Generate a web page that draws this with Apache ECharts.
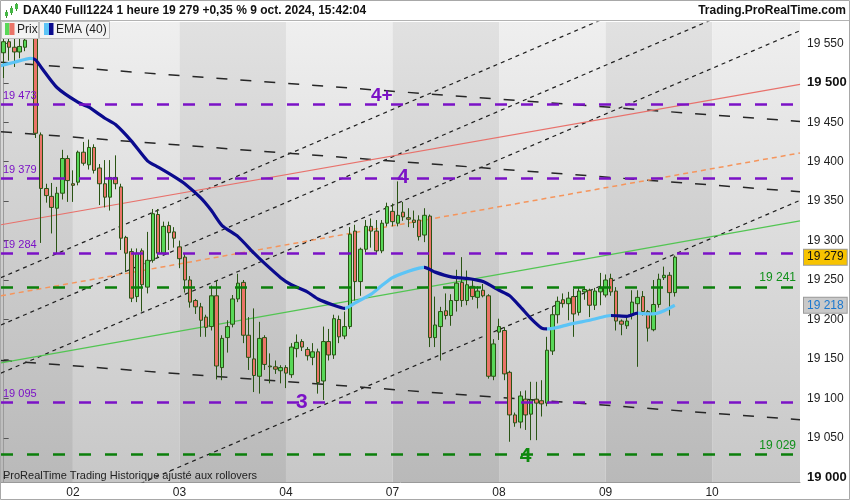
<!DOCTYPE html>
<html>
<head>
<meta charset="utf-8">
<script src="https://cdn.jsdelivr.net/npm/echarts@6/dist/echarts.min.js"></script>
<style>
html, body { margin: 0; padding: 0; background: #fff; }
#main { width: 850px; height: 500px; }
</style>
</head>
<body>
<div id="main"></div>
<script>
// hourly bars, [open, close, low, high]
const oct01 = [
  [19538, 19552, 19506, 19562], [19552, 19545, 19528, 19570], [19545, 19539, 19520, 19565],
  [19539, 19546, 19531, 19556], [19545, 19554, 19540, 19575], [19558, 19566, 19558, 19585],
  [19558, 19436, 19430, 19562], [19434, 19366, 19297, 19437], [19366, 19357, 19348, 19372],
  [19356, 19342, 19309, 19373], [19341, 19360, 19284, 19368], [19360, 19404, 19352, 19415],
  [19404, 19376, 19349, 19408]
]
const oct02 = [
  [19372, 19370, 19349, 19389], [19374, 19412, 19370, 19414], [19412, 19398, 19395, 19425],
  [19396, 19418, 19390, 19428], [19418, 19389, 19385, 19422], [19392, 19372, 19345, 19397],
  [19372, 19355, 19342, 19402], [19355, 19380, 19338, 19402], [19380, 19372, 19365, 19408],
  [19368, 19303, 19288, 19372], [19304, 19284, 19260, 19306], [19286, 19227, 19222, 19290],
  [19229, 19284, 19222, 19290], [19287, 19244, 19210, 19290], [19241, 19275, 19233, 19311],
  [19275, 19334, 19272, 19340], [19333, 19284, 19278, 19340], [19284, 19318, 19282, 19324],
  [19319, 19310, 19288, 19324], [19311, 19303, 19291, 19317]
]
const oct03 = [
  [19292, 19277, 19265, 19300], [19279, 19250, 19234, 19284], [19250, 19222, 19215, 19255],
  [19224, 19216, 19207, 19226], [19216, 19199, 19178, 19221], [19203, 19190, 19178, 19206],
  [19191, 19230, 19186, 19243], [19230, 19141, 19124, 19250], [19139, 19176, 19123, 19180],
  [19177, 19191, 19158, 19199], [19194, 19226, 19190, 19231], [19226, 19246, 19222, 19258],
  [19247, 19180, 19170, 19250], [19180, 19152, 19136, 19203], [19150, 19129, 19108, 19214],
  [19128, 19176, 19106, 19197], [19177, 19143, 19136, 19180], [19141, 19140, 19119, 19157],
  [19140, 19137, 19131, 19148], [19135, 19139, 19119, 19142]
]
const oct04 = [
  [19139, 19132, 19113, 19142], [19130, 19165, 19126, 19170], [19163, 19171, 19152, 19181],
  [19172, 19165, 19160, 19175], [19162, 19154, 19148, 19165], [19152, 19159, 19142, 19170],
  [19159, 19120, 19106, 19163], [19122, 19172, 19098, 19191], [19172, 19155, 19148, 19188],
  [19155, 19201, 19150, 19206], [19200, 19178, 19170, 19205], [19179, 19191, 19175, 19210],
  [19191, 19308, 19188, 19317], [19312, 19248, 19224, 19320], [19248, 19289, 19230, 19291],
  [19289, 19318, 19285, 19326], [19318, 19312, 19291, 19328], [19312, 19287, 19284, 19326],
  [19287, 19322, 19284, 19326], [19322, 19343, 19318, 19348]
]
const oct07 = [
  [19337, 19324, 19318, 19347], [19322, 19332, 19318, 19375], [19336, 19330, 19325, 19349],
  [19329, 19327, 19317, 19341], [19326, 19323, 19316, 19338], [19326, 19305, 19300, 19332],
  [19307, 19332, 19298, 19341], [19331, 19177, 19165, 19333], [19177, 19193, 19165, 19229],
  [19191, 19210, 19148, 19216], [19211, 19205, 19200, 19233], [19205, 19224, 19192, 19232],
  [19224, 19246, 19210, 19263], [19247, 19224, 19216, 19279], [19224, 19244, 19218, 19262],
  [19242, 19229, 19225, 19252], [19228, 19236, 19214, 19242], [19237, 19230, 19228, 19245],
  [19230, 19128, 19125, 19232], [19128, 19169, 19123, 19175]
]
const oct08 = [
  [19184, 19191, 19174, 19201], [19186, 19131, 19123, 19190], [19133, 19079, 19045, 19135],
  [19079, 19069, 19064, 19082], [19070, 19103, 19062, 19109], [19099, 19079, 19060, 19110],
  [19080, 19098, 19047, 19121], [19099, 19094, 19047, 19121], [19097, 19093, 19077, 19123],
  [19094, 19161, 19090, 19178], [19160, 19206, 19155, 19216], [19206, 19223, 19195, 19229],
  [19225, 19220, 19215, 19233], [19220, 19227, 19199, 19235], [19229, 19207, 19178, 19239],
  [19209, 19236, 19205, 19241], [19235, 19238, 19225, 19241], [19237, 19218, 19203, 19239],
  [19218, 19236, 19212, 19240], [19235, 19240, 19218, 19259]
]
const oct09 = [
  [19231, 19250, 19228, 19257], [19252, 19235, 19230, 19258], [19236, 19198, 19186, 19241],
  [19198, 19194, 19180, 19200], [19192, 19198, 19188, 19205], [19205, 19222, 19200, 19237],
  [19220, 19228, 19140, 19237], [19229, 19210, 19205, 19236], [19210, 19189, 19172, 19212],
  [19187, 19219, 19185, 19250], [19219, 19251, 19215, 19258], [19253, 19256, 19250, 19267],
  [19256, 19234, 19205, 19260], [19234, 19279, 19229, 19281]
]

// EMA(40) at some bars
const emaBars = [-1, 2, 5, 6, 7, 10, 14, 16, 19, 21, 24, 27, 29, 32, 34, 37, 39, 41, 44, 47, 49, 52, 54, 57, 59, 62, 64,
  66, 69, 71, 73, 76, 78, 79, 81, 84, 87, 90, 93, 95, 97, 99, 101, 102, 104, 107, 110, 113, 114, 117, 119, 121, 122, 124, 126]
const emaValues = [19521, 19526, 19531, 19529, 19520, 19494, 19475, 19469, 19455, 19447, 19426, 19401, 19393, 19381, 19372,
  19354, 19338, 19319, 19305, 19284, 19271, 19253, 19244, 19235, 19226, 19218, 19214,
  19221, 19232, 19243, 19253, 19261, 19265, 19266, 19260, 19254, 19252, 19248, 19237, 19230, 19216, 19201, 19189, 19188,
  19190, 19195, 19199, 19204, 19205, 19204, 19208, 19207, 19207, 19211, 19218]

// levels and trend lines (price at left edge, price at right edge)
const purpleLevels = [19473, 19379, 19284, 19095]
const greenLevels = [19241, 19029]
const fanLines = [[19253, 19688], [19193, 19628], [19132, 19566], [18916, 19351]]
const channelLines = [[19526, 19451], [19438, 19362], [19148, 19073]]
const redLine = [19320, 19498]
const orangeLine = [19230, 19411]
const greenLine = [19145, 19325]

const purpleNotes = [['4+', 71, 19483], ['4', 75, 19380], ['3', 56, 19095]]
const greenNotes = [['4', 98, 19027]]

const dayNames = ['01', '02', '03', '04', '07', '08', '09', '10']
const priceTicks = [19000, 19050, 19100, 19150, 19200, 19250, 19300, 19350, 19400, 19450, 19500, 19550]

const barsPerDay = 20
const totalSlots = 150
const yMin = 18994
const yMax = 19577

const bars = [].concat(oct01, oct02, oct03, oct04, oct07, oct08, oct09)
const lastClose = bars[bars.length - 1][1]
const lastEma = emaValues[emaValues.length - 1]

const slots = []
let dayNo = 0
let barNo = barsPerDay - oct01.length
for (let i = 0; i < totalSlots; i++) {
    slots.push(dayNames[dayNo] + '-' + barNo)
    barNo++
    if (barNo === barsPerDay) {
        barNo = 0
        dayNo++
    }
}
const isDayStart = (idx, val) => val.endsWith('-0')
const dayStarts = slots.map((s, i) => (isDayStart(i, s) ? i : -1)).filter(i => i >= 0)

const fmt = v => String(Math.round(v)).replace(/\B(?=(\d{3})+(?!\d))/g, ' ')

const purple = '#7b12c6'
const levelGreen = '#0b7f0b'
const font = '"Liberation Sans", Arial, sans-serif'

const main = document.querySelector('#main')
const myChart = echarts.init(main)

const trend = (ends, style) => ({
    type: 'line',
    xAxisIndex: 1,
    yAxisIndex: 0,
    data: [[-0.5, ends[0]], [totalSlots - 0.5, ends[1]]],
    symbol: 'none',
    silent: true,
    z: 1,
    lineStyle: style
})

const series = []
fanLines.forEach(l => series.push(trend(l, { color: '#1e1e1e', width: 1.2, type: [4, 4] })))
channelLines.forEach(l => series.push(trend(l, { color: '#262626', width: 1.5, type: [11, 13] })))
series.push(trend(redLine, { color: '#e8716b', width: 1.2, type: 'solid' }))
series.push(trend(orangeLine, { color: '#f5955c', width: 1.5, type: [5, 4] }))
series.push(trend(greenLine, { color: '#52c552', width: 1.2, type: 'solid' }))

const hidden = { color: 'rgba(0,0,0,0)', width: 1 }

const levelLines = purpleLevels.map(v => ({
    yAxis: v,
    lineStyle: { color: purple, width: 2.6, type: [12, 14] },
    label: { show: true, position: 'insideStartTop', formatter: fmt(v), color: purple, fontSize: 11, distance: [2, 3] }
})).concat(greenLevels.map(v => ({
    yAxis: v,
    lineStyle: { color: levelGreen, width: 2.6, type: [12, 14] },
    label: { show: true, position: 'insideEndTop', formatter: fmt(v), color: '#10901a', fontSize: 12, distance: [4, 3] }
})))
levelLines.push({
    yAxis: lastClose,
    lineStyle: hidden,
    label: {
        show: true, position: 'end', formatter: fmt(lastClose), color: '#111', fontSize: 12,
        backgroundColor: '#f7c300', borderColor: '#9a9a9a', borderWidth: 1, padding: [2, 3, 1, 3], distance: 4
    }
})

const notes = purpleNotes.map(n => ({ name: n[0], coord: [n[1], n[2]], label: { color: purple, fontSize: n[0] === '4+' ? 19 : 21 } }))
    .concat(greenNotes.map(n => ({ name: n[0], coord: [n[1], n[2]], label: { color: '#0e8a0e', fontSize: 21 } })))

series.push({
    type: 'candlestick',
    name: 'Prix',
    xAxisIndex: 0,
    yAxisIndex: 0,
    data: bars,
    barWidth: 4,
    z: 2,
    itemStyle: {
        color: '#58d858',
        color0: '#ea7468',
        borderColor: '#2a5414',
        borderColor0: '#2a5414',
        borderWidth: 1
    },
    markLine: {
        symbol: ['none', 'none'],
        silent: true,
        animation: false,
        data: levelLines
    },
    markPoint: {
        symbol: 'circle',
        symbolSize: 1,
        silent: true,
        animation: false,
        itemStyle: { color: 'transparent' },
        label: { show: true, position: 'inside', formatter: '{b}', fontWeight: 'bold' },
        data: notes
    }
})

const emaIndex = series.length
series.push({
    type: 'line',
    name: 'EMA (40)',
    xAxisIndex: 1,
    yAxisIndex: 0,
    data: emaBars.map((b, k) => [b, emaValues[k]]),
    symbol: 'none',
    smooth: 0.2,
    silent: true,
    z: 3,
    lineStyle: { width: 3.2 },
    markLine: {
        symbol: ['none', 'none'],
        silent: true,
        animation: false,
        data: [{
            yAxis: lastEma,
            lineStyle: hidden,
            label: {
                show: true, position: 'end', formatter: fmt(lastEma), color: '#1b78cf', fontSize: 12,
                backgroundColor: '#c9c9c9', borderColor: '#9a9a9a', borderWidth: 1, padding: [2, 3, 1, 3], distance: 4
            }
        }]
    }
})

const light = '#5cc4f6'
const dark = '#0b0b8e'

myChart.setOption({
    animation: false,
    textStyle: { fontFamily: font },
    grid: { left: 1, right: 50, top: 22, bottom: 18 },
    xAxis: [{
        type: 'category',
        data: slots,
        boundaryGap: true,
        axisLine: { lineStyle: { color: '#9a9a9a' } },
        axisTick: { alignWithLabel: true, interval: isDayStart, length: 4, lineStyle: { color: '#444' } },
        axisLabel: { interval: isDayStart, formatter: v => v.slice(0, 2), color: '#222', fontSize: 12, margin: 5 },
        splitLine: { show: false }
    }, {
        type: 'value',
        min: -0.5,
        max: totalSlots - 0.5,
        show: false
    }],
    yAxis: {
        type: 'value',
        position: 'right',
        min: yMin,
        max: yMax,
        splitLine: { show: false },
        axisLine: { show: true, lineStyle: { color: '#9a9a9a' } },
        axisTick: { show: true, customValues: priceTicks, length: 5, lineStyle: { color: '#555' } },
        axisLabel: {
            customValues: priceTicks,
            margin: 7,
            formatter: v => (v % 500 === 0 ? '{b|' + fmt(v) + '}' : '{n|' + fmt(v) + '}'),
            rich: {
                b: { fontWeight: 'bold', fontSize: 13, color: '#111', fontFamily: font },
                n: { fontSize: 12, color: '#222', fontFamily: font }
            }
        }
    },
    visualMap: {
        show: false,
        type: 'piecewise',
        seriesIndex: emaIndex,
        dimension: 0,
        pieces: [
            { lte: 5.5, color: light },
            { gt: 5.5, lte: 64, color: dark },
            { gt: 64, lte: 79, color: light },
            { gt: 79, lte: 102, color: dark },
            { gt: 102, lte: 114, color: light },
            { gt: 114, lte: 119, color: dark },
            { gt: 119, color: light }
        ]
    },
    series: series
})

// day bands, header, legend
const xPx = v => myChart.convertToPixel({ xAxisIndex: 1 }, v)
const plotTop = myChart.convertToPixel({ yAxisIndex: 0 }, yMax)
const plotBottom = myChart.convertToPixel({ yAxisIndex: 0 }, yMin)
const edges = [-0.5].concat(dayStarts, [totalSlots - 0.5])
const elements = []
for (let k = 0; k < edges.length - 1; k++) {
    const x0 = xPx(edges[k])
    const x1 = xPx(edges[k + 1])
    const isDark = k % 2 === 0
    elements.push({
        type: 'rect',
        silent: true,
        z: -100,
        shape: { x: x0, y: plotTop, width: x1 - x0, height: plotBottom - plotTop },
        style: {
            fill: new echarts.graphic.LinearGradient(0, 0, 0, 1, [
                { offset: 0, color: isDark ? '#e1e1e1' : '#efefef' },
                { offset: 1, color: isDark ? '#b9b9b9' : '#c7c7c7' }
            ])
        }
    })
}

const headerText = 'DAX40 Full1224 1 heure ' + fmt(lastClose) + ' +0,35 % 9 oct. 2024, 15:42:04'
elements.push(
    { type: 'rect', z: 100, silent: true, shape: { x: 0, y: 0, width: 850, height: 20.5 }, style: { fill: '#ffffff' } },
    { type: 'line', z: 100, silent: true, shape: { x1: 0, y1: 20.5, x2: 850, y2: 20.5 }, style: { stroke: '#b3b3b3', lineWidth: 1 } },
    { type: 'line', z: 101, silent: true, shape: { x1: 6.5, y1: 10, x2: 6.5, y2: 18 }, style: { stroke: '#3c8f2c', lineWidth: 1 } },
    { type: 'rect', z: 101, silent: true, shape: { x: 5, y: 12, width: 3, height: 4 }, style: { fill: '#45b845' } },
    { type: 'line', z: 101, silent: true, shape: { x1: 11.5, y1: 6, x2: 11.5, y2: 15 }, style: { stroke: '#3c8f2c', lineWidth: 1 } },
    { type: 'rect', z: 101, silent: true, shape: { x: 10, y: 8, width: 3, height: 5 }, style: { fill: '#45b845' } },
    { type: 'line', z: 101, silent: true, shape: { x1: 16.5, y1: 3, x2: 16.5, y2: 11 }, style: { stroke: '#3c8f2c', lineWidth: 1 } },
    { type: 'rect', z: 101, silent: true, shape: { x: 15, y: 4, width: 3, height: 5 }, style: { fill: '#45b845' } },
    { type: 'text', z: 101, silent: true, x: 23, y: 11, style: { text: headerText, font: 'bold 12px ' + font, fill: '#111', verticalAlign: 'middle' } },
    { type: 'text', z: 101, silent: true, x: 846, y: 11, style: { text: 'Trading.ProRealTime.com', font: 'bold 12px ' + font, fill: '#111', align: 'right', verticalAlign: 'middle' } },
    // legend boxes
    { type: 'rect', z: 100, silent: true, shape: { x: 1.5, y: 21.5, width: 37, height: 17 }, style: { fill: '#f3f3f3', stroke: '#bdbdbd' } },
    { type: 'rect', z: 101, silent: true, shape: { x: 5, y: 23, width: 4.5, height: 12 }, style: { fill: '#58d858' } },
    { type: 'rect', z: 101, silent: true, shape: { x: 9.5, y: 23, width: 5, height: 12 }, style: { fill: '#ea7468' } },
    { type: 'text', z: 101, silent: true, x: 17, y: 30, style: { text: 'Prix', font: '12px ' + font, fill: '#222', verticalAlign: 'middle' } },
    { type: 'rect', z: 100, silent: true, shape: { x: 39.5, y: 21.5, width: 70, height: 17 }, style: { fill: '#f3f3f3', stroke: '#bdbdbd' } },
    { type: 'rect', z: 101, silent: true, shape: { x: 44, y: 23, width: 5, height: 12 }, style: { fill: light } },
    { type: 'rect', z: 101, silent: true, shape: { x: 49, y: 23, width: 4.5, height: 12 }, style: { fill: dark } },
    { type: 'text', z: 101, silent: true, x: 56, y: 30, style: { text: 'EMA (40)', font: '12px ' + font, fill: '#222', verticalAlign: 'middle' } },
    { type: 'text', z: 60, silent: true, x: 3, y: 476, style: { text: 'ProRealTime Trading Historique ajusté aux rollovers', font: '11px ' + font, fill: '#222', verticalAlign: 'middle' } },
    { type: 'rect', z: 102, silent: true, shape: { x: 0.5, y: 0.5, width: 849, height: 499 }, style: { fill: 'none', stroke: '#a8a8a8' } }
)

myChart.setOption({ graphic: { elements: elements } })
</script>
</body>
</html>
